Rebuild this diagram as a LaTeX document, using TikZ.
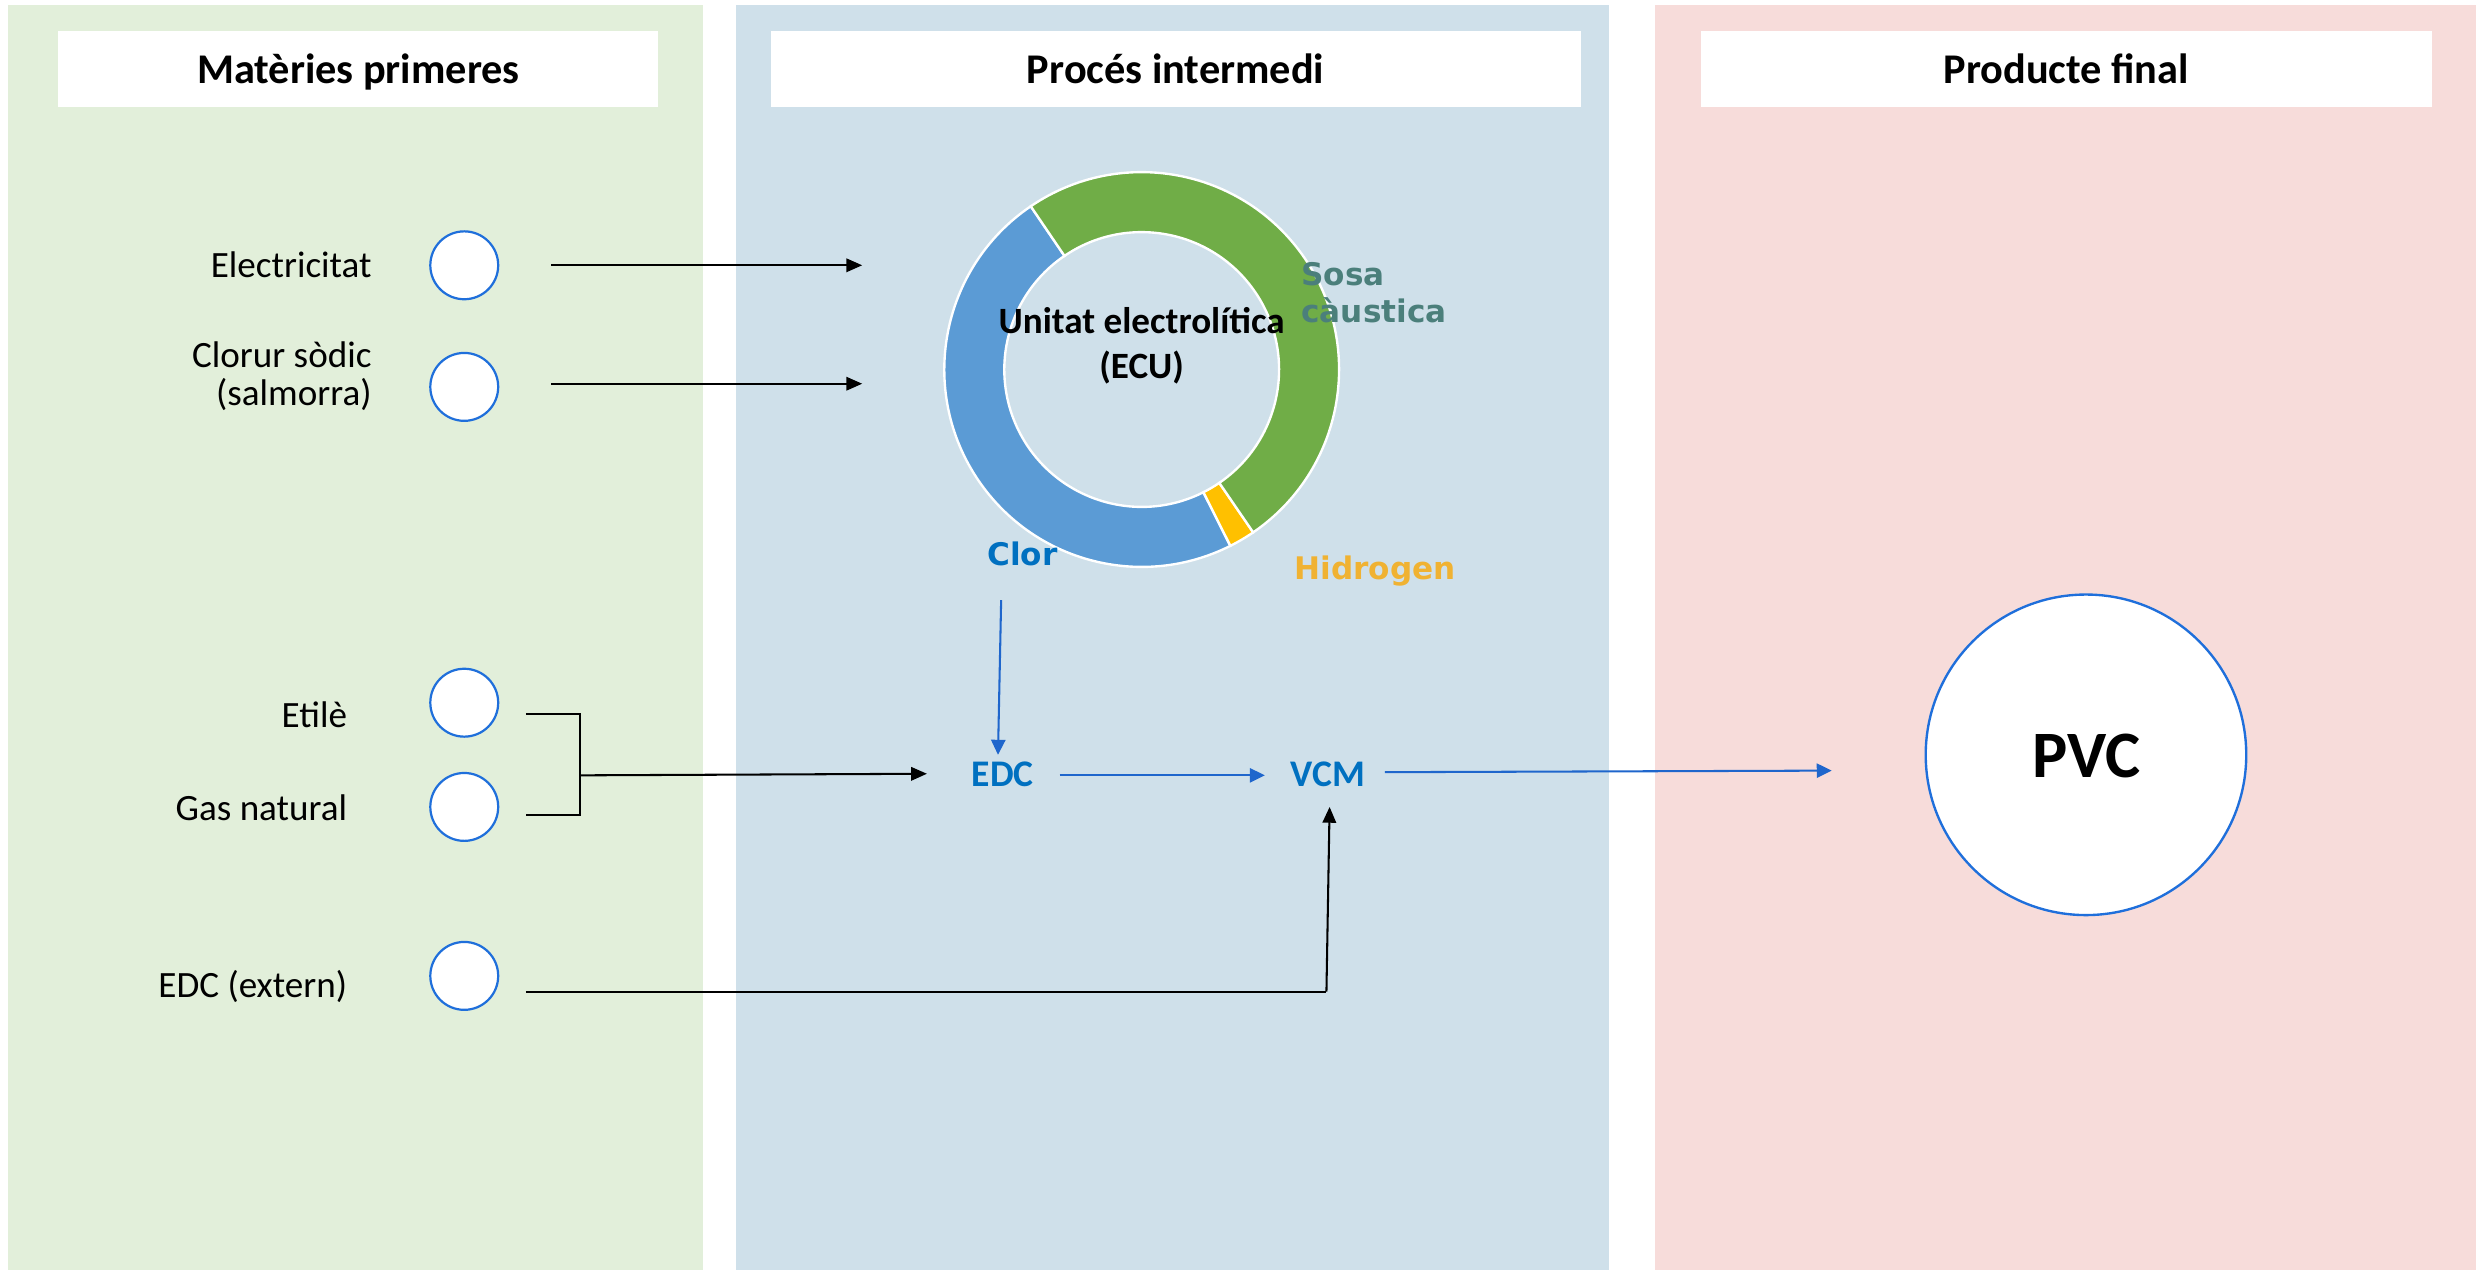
\documentclass[tikz,border=0pt]{standalone}
\usepackage{fontspec}
\setmainfont{Carlito}
\newfontfamily\dejavu{DejaVu Sans}
\usetikzlibrary{arrows.meta}
\definecolor{pgreen}{HTML}{E2EFDA}
\definecolor{pblue}{HTML}{CFE0EA}
\definecolor{ppink}{HTML}{F7DCDA}
\definecolor{cblue}{HTML}{5B9BD5}
\definecolor{cgreen}{HTML}{70AD47}
\definecolor{cyellow}{HTML}{FFC000}
\definecolor{tblue}{HTML}{0070C0}
\definecolor{tteal}{HTML}{4B7F7B}
\definecolor{torange}{HTML}{F0B232}
\definecolor{lblue}{HTML}{1F66CC}
\definecolor{oblue}{HTML}{1F6FDB}
\begin{document}
\begin{tikzpicture}[x=1pt,y=-1pt,
  hdrbox/.style={fill=white, draw=none, inner sep=0},
  hdrtxt/.style={font=\fontsize{26.8}{32}\selectfont\bfseries, inner sep=0, anchor=base},
  src/.style={circle, draw=oblue, line width=1.4pt, fill=white, minimum size=43pt, inner sep=0},
  lbl/.style={font=\fontsize{23.5}{28}\selectfont, inner sep=0, anchor=base east},
  blk/.style={draw=black, line width=1.3pt, -{Triangle[length=10pt,width=8.5pt]}},
  bline/.style={draw=black, line width=1.3pt},
  bla/.style={draw=lblue, line width=1.3pt, -{Triangle[length=9.5pt,width=9pt]}},
  chem/.style={font=\fontsize{23.8}{28}\selectfont\bfseries, text=tblue, inner sep=0, anchor=base},
  dlab/.style={font=\dejavu\fontsize{19.7}{24}\selectfont\bfseries, inner sep=0, anchor=base west},
  ecu/.style={font=\fontsize{23.5}{28}\selectfont\bfseries, inner sep=0, anchor=base},
  seg/.style={fill=#1, draw=white, line width=1.5pt}
]
\useasboundingbox (0,0) rectangle (1568,804);
\fill[white] (0,0) rectangle (1568,804);
% panels
\fill[pgreen] (5,3) rectangle (445,804);
\fill[pblue] (466,3) rectangle (1019,804);
\fill[ppink] (1048,3) rectangle (1568,804);
% headers
\node[hdrbox, minimum width=380pt, minimum height=48pt] (h1) at (227,43.5) {};
\node[hdrbox, minimum width=513pt, minimum height=48pt] (h2) at (744.5,43.5) {};
\node[hdrbox, minimum width=463pt, minimum height=48pt] (h3) at (1308.5,43.5) {};
\node[hdrtxt] (t1) at (227,53) {Matèries primeres};
\node[hdrtxt] (t2) at (744.5,53) {Procés intermedi};
\node[hdrtxt] (t3) at (1308.5,53) {Producte final};
% source circles
\node[src] (c1) at (294,168) {};
\node[src] (c2) at (294,245) {};
\node[src] (c3) at (294,445) {};
\node[src] (c4) at (294,511) {};
\node[src] (c5) at (294,618) {};
% labels
\node[lbl] (l1) at (235.5,175.5) {Electricitat};
\node[lbl] (l2a) at (235.5,232.5) {Clorur sòdic};
\node[lbl] (l2b) at (235.5,256.5) {(salmorra)};
\node[lbl] (l3) at (220,460.5) {Etilè};
\node[lbl] (l4) at (220,519.5) {Gas natural};
\node[lbl] (l5) at (220,631.5) {EDC (extern)};
% donut
\begin{scope}[shift={(723,234)}, yscale=-1]
  \path[seg=cblue] (124.2:125) arc[start angle=124.2, end angle=296.7, radius=125]
     -- (296.7:87) arc[start angle=296.7, end angle=124.2, radius=87] -- cycle;
  \path[seg=cyellow] (296.7:125) arc[start angle=296.7, end angle=304.4, radius=125]
     -- (304.4:87) arc[start angle=304.4, end angle=296.7, radius=87] -- cycle;
  \path[seg=cgreen] (304.4:125) arc[start angle=304.4, end angle=484.2, radius=125]
     -- (484.2:87) arc[start angle=484.2, end angle=304.4, radius=87] -- cycle;
\end{scope}
\coordinate (ecuin1) at (546,168);
\coordinate (ecuin2) at (546,243);
\node[ecu] (ecu1) at (723,211.5) {Unitat electrolítica};
\node[ecu] (ecu2) at (723,239.5) {(ECU)};
\node[dlab, text=tteal] (sosa1) at (824,180.5) {Sosa};
\node[dlab, text=tteal] (sosa2) at (824,204.5) {càustica};
\node[dlab, text=tblue] (clor) at (625,357.8) {Clor};
\node[dlab, text=torange] (hid) at (819.5,367) {Hidrogen};
% chemicals
\node[chem] (edc) at (635,498) {EDC};
\node[chem] (vcm) at (841,498) {VCM};
\node[circle, draw=oblue, line width=1.5pt, fill=white, minimum size=203pt, inner sep=0] (pvc) at (1321,478) {};
\node[font=\fontsize{42}{50}\selectfont\bfseries, inner sep=0, anchor=base] (pvct) at (1321.5,492.5) {PVC};
% connectors
\coordinate (a1s) at (349,168);
\coordinate (a2s) at (349,243);
\draw[blk] (a1s) -- (ecuin1);
\draw[blk] (a2s) -- (ecuin2);
\coordinate (b1) at (333,452);
\coordinate (b2) at (367,452);
\coordinate (b3) at (367,516);
\coordinate (b4) at (333,516);
\coordinate (bm) at (367,491);
\coordinate (edcin) at (587,490);
\draw[bline] (b1) -- (b2) -- (b3) -- (b4);
\draw[blk] (bm) -- (edcin);
\coordinate (e1) at (333,628);
\coordinate (e2) at (840,628);
\coordinate (vcmin) at (842,511);
\draw[bline] (e1) -- (e2);
\draw[blk] (e2) -- (vcmin);
\coordinate (clorout) at (634,380);
\coordinate (edctop) at (632,478);
\draw[bla] (clorout) -- (edctop);
\coordinate (edcout) at (671,491);
\coordinate (vcmleft) at (801,491);
\draw[bla] (edcout) -- (vcmleft);
\coordinate (vcmout) at (877,489);
\coordinate (pvcin) at (1160,488);
\draw[bla] (vcmout) -- (pvcin);
\end{tikzpicture}
\end{document}
